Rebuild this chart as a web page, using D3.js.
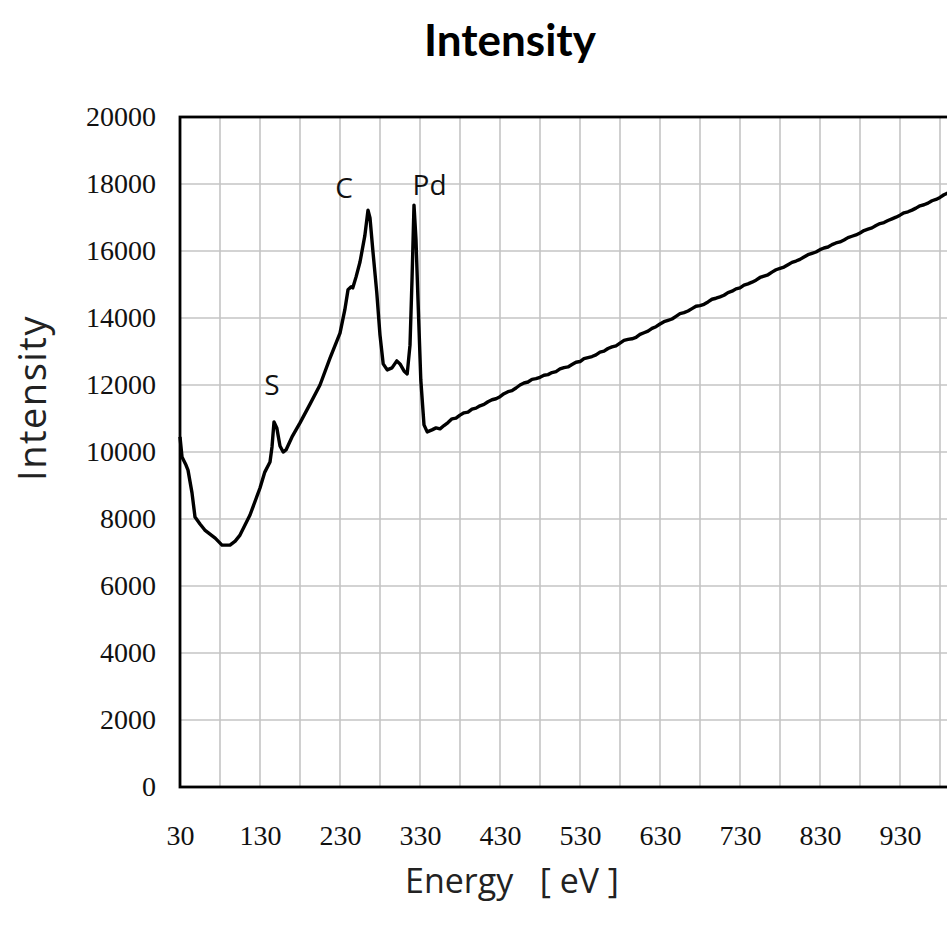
<!DOCTYPE html>
<html>
<head>
<meta charset="utf-8">
<script src="https://cdn.jsdelivr.net/npm/d3@7"></script>
<style>
  html, body { margin: 0; padding: 0; background: #fff; overflow: hidden; }
  .grid line { stroke: #c4c4c4; stroke-width: 1.6px; }
  .axis path, .axis line { display: none; }
</style>
</head>
<body>
<div id="chart"></div>
<script>
// energy (eV) and intensity
var energy = [30, 32.5, 37.5, 40, 45, 48.75, 55, 61, 74, 82.5, 92.5, 99, 105, 117.5, 130, 136, 142.5,
  145, 147.5, 151, 155, 159, 162.5, 170, 180, 192.5, 205, 217.5, 230, 236, 240, 244, 246, 250, 255,
  261, 265, 267.5, 271, 276, 280, 284, 289, 295, 301, 305, 310, 314, 317.5, 320, 322.5, 325, 327.5,
  331, 335, 339, 345, 350, 355, 360, 365, 370, 375, 380, 385, 390, 395, 400, 405, 410, 415, 420, 425,
  430, 435, 440, 445, 450, 455, 460, 465, 470, 475, 480, 485, 490, 495,
  500, 505, 510, 515, 520, 525, 530, 535, 540, 545, 550, 555, 560, 565, 570, 575, 580, 585, 590, 595,
  600, 605, 610, 615, 620, 625, 630, 635, 640, 645, 650, 655, 660, 665, 670, 675, 680, 685,
  690, 695, 700, 705, 710, 715, 720, 725, 730, 735, 740, 745, 750, 755, 760, 765, 770, 775, 780, 785,
  790, 795, 800, 805, 810, 815, 820, 825, 830, 835, 840, 845, 850, 855, 860, 865, 870, 875,
  880, 885, 890, 895, 900, 905, 910, 915, 920, 925, 930, 935, 940, 945, 950, 955, 960, 965, 970, 975,
  980, 985, 990];
var intensity = [10450, 9850, 9610, 9460, 8780, 8060, 7850, 7670, 7430, 7220, 7220, 7340, 7520, 8120, 8925, 9400, 9700,
  10150, 10900, 10720, 10180, 10000, 10060, 10450, 10870, 11430, 12000, 12800, 13550, 14240, 14840, 14930, 14900, 15220, 15670,
  16450, 17220, 16990, 16030, 14750, 13490, 12630, 12450, 12510, 12720, 12630, 12420, 12330, 13190, 15130, 17370, 16330, 14540,
  12150, 10810, 10600, 10660, 10720, 10690, 10790, 10880, 10990, 11010, 11100, 11170, 11190, 11280, 11310, 11380, 11420, 11500, 11560, 11590,
  11650, 11740, 11800, 11830, 11910, 12000, 12060, 12090, 12170, 12190, 12230, 12290, 12310, 12370,
  12400, 12480, 12520, 12540, 12610, 12680, 12700, 12790, 12820, 12850, 12900, 12980, 13010, 13090, 13140, 13170, 13250, 13330, 13360, 13380,
  13420, 13510, 13560, 13610, 13690, 13740, 13820, 13890, 13930, 13970, 14050, 14130, 14160, 14210, 14280, 14350, 14370, 14410,
  14480, 14560, 14590, 14630, 14680, 14760, 14800, 14870, 14900, 14980, 15020, 15070, 15130, 15210, 15250, 15290, 15370, 15440, 15480, 15520,
  15590, 15660, 15700, 15750, 15820, 15890, 15930, 15970, 16040, 16090, 16120, 16190, 16240, 16270, 16330, 16400, 16440, 16480,
  16540, 16610, 16650, 16690, 16760, 16820, 16850, 16910, 16960, 17010, 17070, 17140, 17170, 17220, 17280, 17350, 17380, 17430, 17500, 17540,
  17600, 17680, 17730];

var xTicks = [30, 130, 230, 330, 430, 530, 630, 730, 830, 930];
var xGrid = d3.range(30, 1031, 50);
var yTicks = [0, 2000, 4000, 6000, 8000, 10000, 12000, 14000, 16000, 18000, 20000];

var peakLabels = ["S", "C", "Pd"];
var peakEnergy = [145, 235, 342];
var peakIntensity = [11700, 17580, 17670];

var W = 947, H = 935;
var margin = {top: 117, left: 180, bottom: 148};
var plotW = 800, plotH = H - margin.top - margin.bottom;

var svg = d3.select("#chart").append("svg")
    .attr("width", W)
    .attr("height", H);

var x = d3.scaleLinear().domain([30, 1030]).range([0, plotW]);
var y = d3.scaleLinear().domain([0, 20000]).range([plotH, 0]);

var g = svg.append("g")
    .attr("transform", "translate(" + margin.left + "," + margin.top + ")");

// grid
g.append("g").attr("class", "grid")
  .selectAll("line.v").data(xGrid).enter().append("line")
    .attr("x1", function(d) { return x(d); })
    .attr("x2", function(d) { return x(d); })
    .attr("y1", 0).attr("y2", plotH);
g.append("g").attr("class", "grid")
  .selectAll("line.h").data(yTicks).enter().append("line")
    .attr("x1", 0).attr("x2", plotW)
    .attr("y1", function(d) { return y(d); })
    .attr("y2", function(d) { return y(d); });

// frame
g.append("rect")
    .attr("x", 0).attr("y", 0)
    .attr("width", plotW).attr("height", plotH)
    .attr("fill", "none")
    .attr("stroke", "#000")
    .attr("stroke-width", 2.8);

// axes (labels only)
var yAxis = d3.axisLeft(y).tickValues(yTicks).tickSize(0).tickPadding(24).tickFormat(d3.format("d"));
g.append("g").attr("class", "axis")
    .call(yAxis)
    .selectAll("text")
    .style("font-family", "'Liberation Serif', serif")
    .style("font-size", "28px")
    .attr("fill", "#111");

var xAxis = d3.axisBottom(x).tickValues(xTicks).tickSize(0).tickPadding(38).tickFormat(d3.format("d"));
g.append("g").attr("class", "axis")
    .attr("transform", "translate(0," + plotH + ")")
    .call(xAxis)
    .selectAll("text")
    .style("font-family", "'Liberation Serif', serif")
    .style("font-size", "28px")
    .attr("fill", "#111");

// spectrum
var pts = energy.map(function(e, i) { return {e: e, v: intensity[i]}; });
var line = d3.line()
    .x(function(d) { return x(d.e); })
    .y(function(d) { return y(d.v); });
g.append("path")
    .datum(pts)
    .attr("d", line)
    .attr("fill", "none")
    .attr("stroke", "#000")
    .attr("stroke-width", 3.4)
    .attr("stroke-linejoin", "round");

// peak labels
g.selectAll(".peak").data(peakLabels).enter().append("text")
    .attr("class", "peak")
    .attr("x", function(d, i) { return x(peakEnergy[i]); })
    .attr("y", function(d, i) { return y(peakIntensity[i]); })
    .attr("text-anchor", "middle")
    .style("font-family", "'Open Sans', sans-serif")
    .style("font-size", "28px")
    .attr("fill", "#111")
    .text(function(d) { return d; });

// titles
svg.append("text")
    .attr("x", 510).attr("y", 56)
    .attr("text-anchor", "middle")
    .style("font-family", "Lato, sans-serif")
    .style("font-weight", "bold")
    .style("font-size", "44px")
    .text("Intensity");

svg.append("text")
    .attr("transform", "translate(46," + 398 + ") rotate(-90)")
    .attr("text-anchor", "middle")
    .style("font-family", "'Open Sans', sans-serif")
    .style("font-size", "38px")
    .style("letter-spacing", "1.5px")
    .attr("fill", "#222")
    .text("Intensity");

svg.append("text")
    .attr("x", 512).attr("y", 893)
    .attr("text-anchor", "middle")
    .attr("xml:space", "preserve")
    .style("white-space", "pre")
    .style("font-family", "'Open Sans', sans-serif")
    .style("font-size", "34px")
    .attr("fill", "#222")
    .text("Energy   [ eV ]");
</script>
</body>
</html>
